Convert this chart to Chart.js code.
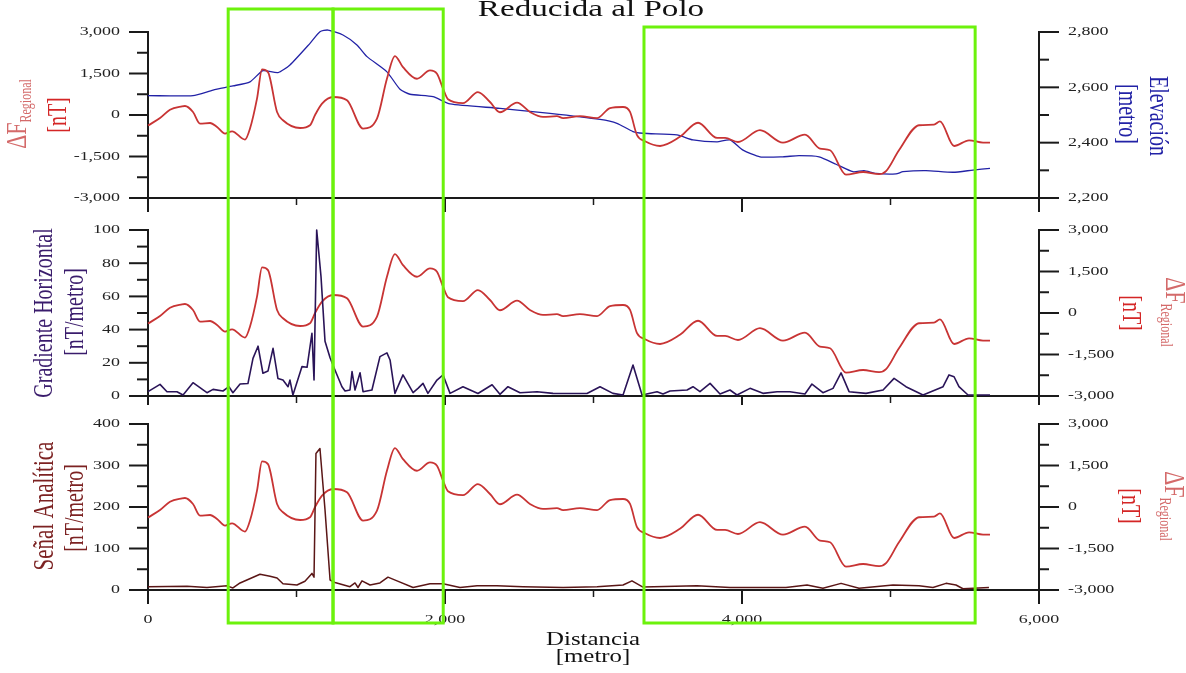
<!DOCTYPE html>
<html>
<head>
<meta charset="utf-8">
<script src="https://cdn.jsdelivr.net/npm/chart.js@4.4.1/dist/chart.umd.min.js"></script>
<style>
html, body { margin: 0; padding: 0; background: #fff; }
#wrap { position: relative; width: 1186px; height: 673px; overflow: hidden; }
#wrap canvas { position: absolute; left: 0; }
</style>
</head>
<body>
<div id="wrap">
  <canvas id="p1" width="1186" height="215" style="top:0px"></canvas>
  <canvas id="p2" width="1186" height="190" style="top:215px"></canvas>
  <canvas id="p3" width="1186" height="268" style="top:405px"></canvas>
</div>
<script>
// ΔF regional (nT) along the profile, distance in metres
const regDist = [0, 81, 148, 229, 249, 303, 350, 418, 465, 519, 566, 653, 687, 734, 768, 808, 869, 909, 1024, 1091,
  1125, 1172, 1246, 1340, 1448, 1542, 1609, 1663, 1717, 1811, 1899, 1946, 1987, 2020, 2121, 2222, 2303, 2370, 2485, 2572,
  2660, 2754, 2795, 2909, 3024, 3111, 3199, 3246, 3293, 3347, 3448, 3582, 3704, 3832, 3886, 3973, 4121, 4276, 4424, 4525,
  4593, 4700, 4815, 4923, 4970, 5057, 5192, 5293, 5333, 5428, 5529, 5623, 5670];
const regVal = [-380, -110, 190, 310, 325, 110, -310, -290, -430, -670, -590, -890, -490, 590, 1650, 1550, 110, -190, -470, -370,
  0, 410, 650, 530, -490, -130, 1310, 2130, 1730, 1310, 1610, 1490, 950, 570, 430, 830, 470, 100, 445, 110,
  -70, -40, -110, -40, -110, 250, 290, 110, -730, -950, -1120, -790, -280, -830, -830, -975, -550, -1000, -710, -1215,
  -1275, -2155, -2060, -2140, -2030, -1275, -370, -350, -230, -1120, -915, -1000, -1000];

// elevación (m)
const elevDist = [0, 303, 438, 572, 687, 774, 875, 956, 1091, 1158, 1212, 1313, 1407, 1475, 1609, 1697, 1764, 1919, 2034, 2370,
  2707, 3044, 3158, 3266, 3333, 3562, 3670, 3832, 3919, 4007, 4121, 4276, 4384, 4519, 4633, 4747, 4822, 4902, 5037, 5084,
  5239, 5421, 5556, 5670];
const elevVal = [2570, 2570, 2590, 2605, 2620, 2660, 2653, 2681, 2759, 2801, 2807, 2789, 2753, 2711, 2656, 2593, 2575, 2566, 2540, 2524,
  2506, 2484, 2470, 2440, 2434, 2428, 2410, 2403, 2410, 2373, 2349, 2349, 2353, 2349, 2322, 2295, 2299, 2289, 2287, 2295,
  2299, 2293, 2301, 2307];

// gradiente horizontal (nT/m)
const gradDist = [0, 81, 128, 195, 236, 303, 397, 438, 505, 545, 572, 620, 673, 707, 741, 774, 808, 842, 875, 909,
  943, 956, 976, 1037, 1071, 1104, 1118, 1136, 1165, 1192, 1226, 1259, 1306, 1327, 1360, 1374, 1394, 1428, 1448, 1508,
  1562, 1609, 1630, 1663, 1717, 1785, 1818, 1852, 1885, 1946, 1987, 2034, 2121, 2222, 2317, 2370, 2424, 2505, 2620, 2727,
  2842, 2956, 3044, 3131, 3199, 3266, 3327, 3428, 3468, 3515, 3630, 3670, 3717, 3785, 3852, 3919, 3966, 4054, 4141, 4236,
  4323, 4424, 4471, 4545, 4613, 4667, 4721, 4835, 4950, 5024, 5104, 5219, 5354, 5394, 5428, 5461, 5522, 5670];
const gradVal = [2.6, 7, 2.6, 2.6, 0.6, 8, 2, 4, 3, 5.6, 2, 7.2, 7.5, 22.7, 30, 13.7, 15, 28.7, 10.6, 9.6,
  5.6, 9.6, 0.6, 17.7, 17.3, 37.8, 9.6, 100, 72, 33, 23, 15.7, 5.6, 3, 3.6, 14.7, 3.6, 14, 2.6, 3.6,
  23.7, 26, 21.7, 1.6, 12.7, 2, 4.6, 7.6, 1.6, 9.6, 12.7, 1.6, 5.6, 1.5, 6.8, 1, 5.6, 2, 2.6, 1.6,
  1.5, 1.5, 5.6, 1.6, 0.6, 18.7, 0.6, 2.6, 1.2, 3, 3.6, 5.6, 2.6, 7.6, 1.2, 3.6, 0.6, 4.6, 1.6, 2.6,
  2.6, 1.2, 7.2, 2, 4.6, 13.9, 2.6, 1.6, 3.6, 10.6, 5.6, 0.6, 5.6, 12.7, 11.6, 5.6, 0.6, 0.6];

// señal analítica (nT/m)
const asDist = [0, 263, 397, 532, 572, 620, 754, 822, 869, 909, 1003, 1057, 1104, 1118, 1131, 1158, 1192, 1226, 1259, 1360,
  1394, 1414, 1441, 1495, 1562, 1616, 1677, 1785, 1899, 1987, 2101, 2216, 2350, 2525, 2795, 3024, 3199, 3259, 3333, 3697,
  3919, 4141, 4296, 4438, 4545, 4667, 4788, 5017, 5192, 5286, 5374, 5441, 5488, 5663];
const asVal = [8, 9, 6, 10, 5, 17, 38, 33, 29, 15, 12, 21, 40, 31, 329, 341, 193, 24, 18, 8,
  17, 6, 22, 12, 17, 31, 22, 6, 15, 15, 6, 10, 10, 8, 6, 8, 12, 22, 7, 10,
  6, 6, 6, 12, 4, 16, 4, 12, 10, 6, 16, 12, 3, 6];

// tick values
const xMajor = [0, 2000, 4000, 6000];
const xMinor = [1000, 3000, 5000];
const dfTicks = [-3000, -1500, 0, 1500, 3000];
const dfMinor = [-2250, -750, 750, 2250];
const elevTicks = [2200, 2400, 2600, 2800];
const elevMinor = [2300, 2500, 2700];
const gradTicks = [0, 20, 40, 60, 80, 100];
const gradMinor = [10, 30, 50, 70, 90];
const asTicks = [0, 100, 200, 300, 400];
const asMinor = [50, 150, 250, 350];

// highlighted zones (distance ranges, m)
const zoneRanges = [[540, 1246], [1246, 1988], [3340, 5570]];

const SX = 1.38; // the original figure is stretched sideways
const SERIF = '"Liberation Serif", "DejaVu Serif", serif';
const RED = '#c83434';
const TITLE_RED = '#d46a6a';
const NT_RED = '#d42626';
const BLUE = '#2222a6';

const panels = [
  { id: 'p1', top: 0, height: 215, areaTop: 32, areaBottom: 198 },
  { id: 'p2', top: 215, height: 190, areaTop: 15, areaBottom: 181 },
  { id: 'p3', top: 405, height: 268, areaTop: 19, areaBottom: 185 }
];
const zoneTops = [9, 9, 27];
const zoneBottom = 623;

function pts(xs, ys) {
  return xs.map((x, i) => ({ x: x, y: ys[i] }));
}

function fmt(v) {
  return v.toLocaleString('en-US');
}

function text(ctx, str, x, y, size, color, align, base) {
  ctx.save();
  ctx.font = size + 'px ' + SERIF;
  ctx.fillStyle = color;
  ctx.textAlign = align;
  ctx.textBaseline = base;
  ctx.translate(x, y);
  ctx.scale(SX, 1);
  ctx.fillText(str, 0, 0);
  ctx.restore();
}

// rotated title made of runs (for the subscript)
function rotText(ctx, runs, cx, cy, angle) {
  ctx.save();
  ctx.translate(cx, cy);
  ctx.rotate(angle);
  ctx.scale(1, SX);
  ctx.textBaseline = 'middle';
  ctx.textAlign = 'left';
  let total = 0;
  runs.forEach(r => {
    ctx.font = r.size + 'px ' + SERIF;
    r.w = ctx.measureText(r.text).width;
    total += r.w;
  });
  let x = -total / 2;
  runs.forEach(r => {
    ctx.font = r.size + 'px ' + SERIF;
    ctx.fillStyle = r.color;
    ctx.fillText(r.text, x, r.dy || 0);
    x += r.w;
  });
  ctx.restore();
}

function line(ctx, x1, y1, x2, y2, w) {
  ctx.lineWidth = w;
  ctx.beginPath();
  ctx.moveTo(x1, y1);
  ctx.lineTo(x2, y2);
  ctx.stroke();
}

function deltaF(size) {
  return [
    { text: 'ΔF', size: size, color: TITLE_RED },
    { text: 'Regional', size: 12, color: TITLE_RED, dy: 6 }
  ];
}

function decoPlugin(p, left, right, titles) {
  return {
    id: 'deco_' + p.id,
    afterDraw(chart) {
      const ctx = chart.ctx;
      const a = chart.chartArea;
      const xs = chart.scales.x, yl = chart.scales.yL, yr = chart.scales.yR;
      ctx.save();
      ctx.strokeStyle = '#1a1a1a';

      xMajor.forEach(v => line(ctx, xs.getPixelForValue(v), a.bottom, xs.getPixelForValue(v), a.bottom + 14, 2));
      xMinor.forEach(v => line(ctx, xs.getPixelForValue(v), a.bottom, xs.getPixelForValue(v), a.bottom + 7, 1.5));

      left.major.forEach(v => {
        const y = yl.getPixelForValue(v);
        line(ctx, a.left - 19, y, a.left, y, 2);
        text(ctx, fmt(v), a.left - 28, y, 13, '#222', 'right', 'middle');
      });
      left.minor.forEach(v => {
        const y = yl.getPixelForValue(v);
        line(ctx, a.left - 11, y, a.left, y, 2);
      });
      right.major.forEach(v => {
        const y = yr.getPixelForValue(v);
        line(ctx, a.right, y, a.right + 20, y, 2);
        text(ctx, fmt(v), a.right + 29, y, 13, '#222', 'left', 'middle');
      });
      right.minor.forEach(v => {
        const y = yr.getPixelForValue(v);
        line(ctx, a.right, y, a.right + 10, y, 2);
      });

      titles(ctx, chart, p);

      // green zones
      ctx.strokeStyle = '#6cf20c';
      zoneRanges.forEach((r, i) => {
        const x1 = xs.getPixelForValue(r[0]), x2 = xs.getPixelForValue(r[1]);
        const t = zoneTops[i] - p.top, b = zoneBottom - p.top;
        ctx.lineWidth = 3;
        ctx.strokeRect(x1, t, x2 - x1, b - t);
      });
      ctx.restore();
    }
  };
}

function axisOpts(o) {
  return Object.assign({
    grid: { display: false },
    ticks: { display: false },
    border: { display: true, color: '#1a1a1a', width: 2 }
  }, o);
}

function buildPanel(p, datasets, left, right, titles) {
  return new Chart(document.getElementById(p.id), {
    type: 'line',
    data: { datasets: datasets },
    options: {
      responsive: false,
      animation: false,
      events: [],
      layout: { autoPadding: false, padding: { top: p.areaTop, bottom: 0, left: 0, right: 0 } },
      plugins: { legend: { display: false }, tooltip: { enabled: false } },
      elements: { point: { radius: 0 }, line: { borderJoinStyle: 'round' } },
      scales: {
        x: axisOpts({ type: 'linear', min: 0, max: 6000, afterFit: s => { s.height = p.height - p.areaBottom; } }),
        yL: axisOpts({ position: 'left', min: left.min, max: left.max, afterFit: s => { s.width = 148; } }),
        yR: axisOpts({ position: 'right', min: right.min, max: right.max, afterFit: s => { s.width = 147; } })
      }
    },
    plugins: [decoPlugin(p, left, right, titles)]
  });
}

function regSet(axis) {
  return {
    data: pts(regDist, regVal),
    yAxisID: axis,
    borderColor: RED,
    borderWidth: 1.8,
    cubicInterpolationMode: 'monotone',
    clip: 6
  };
}

const dfAxis = { min: -3000, max: 3000, major: dfTicks, minor: dfMinor };

buildPanel(panels[0], [
  regSet('yL'),
  { data: pts(elevDist, elevVal), yAxisID: 'yR', borderColor: BLUE, borderWidth: 1.3, tension: 0.2, clip: 6 }
], dfAxis, { min: 2200, max: 2800, major: elevTicks, minor: elevMinor }, (ctx, chart, p) => {
  text(ctx, 'Reducida al Polo', 591, 16, 24, '#111', 'center', 'alphabetic');
  rotText(ctx, deltaF(22), 18, 114 - p.top, -Math.PI / 2);
  rotText(ctx, [{ text: '[nT]', size: 20, color: NT_RED }], 59, 115 - p.top, -Math.PI / 2);
  rotText(ctx, [{ text: 'Elevación', size: 20, color: BLUE }], 1157, 116 - p.top, Math.PI / 2);
  rotText(ctx, [{ text: '[metro]', size: 20, color: BLUE }], 1126, 114 - p.top, Math.PI / 2);
});

buildPanel(panels[1], [
  { data: pts(gradDist, gradVal), yAxisID: 'yL', borderColor: '#2a1458', borderWidth: 1.6, tension: 0, clip: 6 },
  regSet('yR')
], { min: 0, max: 100, major: gradTicks, minor: gradMinor }, dfAxis, (ctx, chart, p) => {
  const c = '#3a1c6c';
  rotText(ctx, [{ text: 'Gradiente Horizontal', size: 20, color: c }], 45, 313 - p.top, -Math.PI / 2);
  rotText(ctx, [{ text: '[nT/metro]', size: 20, color: c }], 76, 312 - p.top, -Math.PI / 2);
  rotText(ctx, [{ text: '[nT]', size: 20, color: NT_RED }], 1130, 313 - p.top, Math.PI / 2);
  rotText(ctx, deltaF(22), 1174, 312 - p.top, Math.PI / 2);
});

buildPanel(panels[2], [
  { data: pts(asDist, asVal), yAxisID: 'yL', borderColor: '#5a1616', borderWidth: 1.5, tension: 0, clip: 6 },
  regSet('yR')
], { min: 0, max: 400, major: asTicks, minor: asMinor }, dfAxis, (ctx, chart, p) => {
  const c = '#7c2222';
  const xs = chart.scales.x;
  xMajor.forEach(v => text(ctx, fmt(v), xs.getPixelForValue(v), 623 - p.top, 13, '#222', 'center', 'alphabetic'));
  text(ctx, 'Distancia', 593, 645 - p.top, 18, '#111', 'center', 'alphabetic');
  text(ctx, '[metro]', 593, 662 - p.top, 18, '#111', 'center', 'alphabetic');
  rotText(ctx, [{ text: 'Señal Analítica', size: 21, color: c }], 45, 506 - p.top, -Math.PI / 2);
  rotText(ctx, [{ text: '[nT/metro]', size: 20, color: c }], 76, 508 - p.top, -Math.PI / 2);
  rotText(ctx, [{ text: '[nT]', size: 20, color: NT_RED }], 1129, 506 - p.top, Math.PI / 2);
  rotText(ctx, deltaF(22), 1173, 506 - p.top, Math.PI / 2);
});
</script>
</body>
</html>
